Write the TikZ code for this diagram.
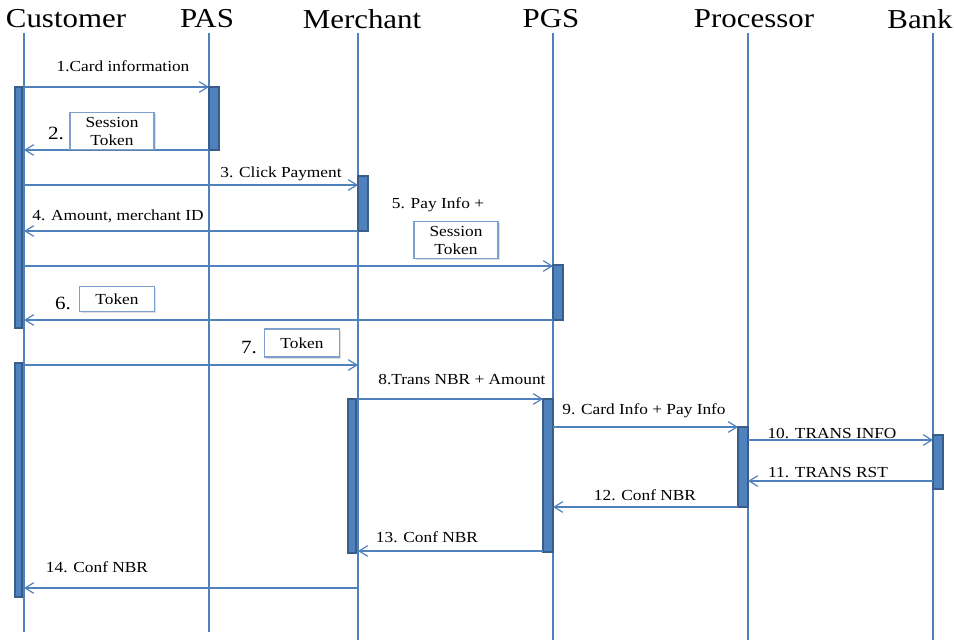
\documentclass[tikz,border=0pt]{standalone}
\usepackage{fontspec}
\setmainfont[FakeStretch=1.13]{Liberation Serif}
\usetikzlibrary{arrows.meta,shadows}
\definecolor{lifeblue}{HTML}{4F81BD}
\definecolor{bardark}{HTML}{385D8A}
\definecolor{boxedge}{HTML}{7F9FCF}
\tikzset{
  lifeline/.style={draw=lifeblue,line width=2pt},
  actbar/.style={fill=lifeblue,draw=bardark,line width=1pt},
  msg/.style={draw=lifeblue,line width=0.9pt,-{Straight Barb[length=6.5pt,width=8pt,line width=0.9pt]}},
  head/.style={font=\fontsize{20.5}{22}\selectfont,inner sep=0pt},
  lbl/.style={font=\fontsize{11.5}{12}\selectfont,inner sep=0pt},
  num/.style={font=\fontsize{14}{15}\selectfont,inner sep=0pt},
  tokbox/.style={draw=boxedge,line width=0.8pt,fill=white,align=center,
    font=\fontsize{11.5}{13.5}\selectfont,inner sep=0pt,
    drop shadow={opacity=0.25,shadow xshift=1.2pt,shadow yshift=-1.2pt}}
}
\begin{document}
\begin{tikzpicture}[x=0.75pt,y=-0.75pt]
\useasboundingbox (0,0) rectangle (954,640);
% headers
\node[head] (hCu) at (66,19) {Customer};
\node[head] (hPA) at (207,19) {PAS};
\node[head] (hMe) at (362,19) {Merchant};
\node[head] (hPG) at (551,19) {PGS};
\node[head] (hPr) at (754,19) {Processor};
\node[head] (hBa) at (920,19) {Bank};
% lifeline tops / bottoms
\coordinate (Cu) at (24,33);   \coordinate (CuE) at (24,632);
\coordinate (PA) at (209,33);  \coordinate (PAE) at (209,632);
\coordinate (Me) at (358,33);  \coordinate (MeE) at (358,640);
\coordinate (PG) at (553,33);  \coordinate (PGE) at (553,640);
\coordinate (Pr) at (748,33);  \coordinate (PrE) at (748,640);
\coordinate (Ba) at (933,33);  \coordinate (BaE) at (933,640);
\foreach \a/\b in {Cu/CuE,PA/PAE,Me/MeE,PG/PGE,Pr/PrE,Ba/BaE}
  \draw[lifeline] (\a) -- (\b);
% activation bars
\draw[actbar] (15,87) rectangle (22,328);
\draw[actbar] (15,363) rectangle (22,597);
\draw[actbar] (209,87) rectangle (219,150);
\draw[actbar] (358,176) rectangle (368,231);
\draw[actbar] (553,265) rectangle (563,320);
\draw[actbar] (348,399) rectangle (356,553);
\draw[actbar] (543,399) rectangle (553,552);
\draw[actbar] (738,427) rectangle (748,507);
\draw[actbar] (933,435) rectangle (943,489);
% messages
\draw[msg] (Cu |- 0,87) -- (PA |- 0,87);
\node[lbl] (l1) at (123,66) {1.Card information};
\draw[msg] (PA |- 0,150) -- (Cu |- 0,150);
\node[num] (l2) at (56,133) {2.};
\node[tokbox,minimum width=63pt,minimum height=28pt] (b2) at (112,131) {Session\\Token};
\draw[msg] (Cu |- 0,185) -- (Me |- 0,185);
\node[lbl] (l3) at (281,174) {3. Click Payment};
\draw[msg] (Me |- 0,231) -- (Cu |- 0,231);
\node[lbl] (l4) at (118,216) {4. Amount, merchant ID};
\node[lbl] (l5) at (438,205) {5. Pay Info +};
\node[tokbox,minimum width=63pt,minimum height=28pt] (b5) at (456,240) {Session\\Token};
\draw[msg] (Cu |- 0,266) -- (PG |- 0,266);
\draw[msg] (PG |- 0,320) -- (Cu |- 0,320);
\node[num] (l6) at (63,303) {6.};
\node[tokbox,minimum width=56pt,minimum height=19pt] (b6) at (117,299) {Token};
\draw[msg] (Cu |- 0,365) -- (Me |- 0,365);
\node[num] (l7) at (249,348) {7.};
\node[tokbox,minimum width=56pt,minimum height=21pt] (b7) at (302,343) {Token};
\draw[msg] (Me |- 0,399) -- (543,399);
\node[lbl] (l8) at (462,380) {8.Trans NBR + Amount};
\draw[msg] (553,427) -- (738,427);
\node[lbl] (l9) at (644,411) {9. Card Info + Pay Info};
\draw[msg] (Pr |- 0,440) -- (Ba |- 0,440);
\node[lbl] (l10) at (832,434) {10. TRANS INFO};
\draw[msg] (Ba |- 0,481) -- (Pr |- 0,481);
\node[lbl] (l11) at (828,473) {11. TRANS RST};
\draw[msg] (738,507) -- (553,507);
\node[lbl] (l12) at (645,495) {12. Conf NBR};
\draw[msg] (543,551) -- (Me |- 0,551);
\node[lbl] (l13) at (427,537) {13. Conf NBR};
\draw[msg] (Me |- 0,588) -- (Cu |- 0,588);
\node[lbl] (l14) at (97,567) {14. Conf NBR};
\end{tikzpicture}
\end{document}
